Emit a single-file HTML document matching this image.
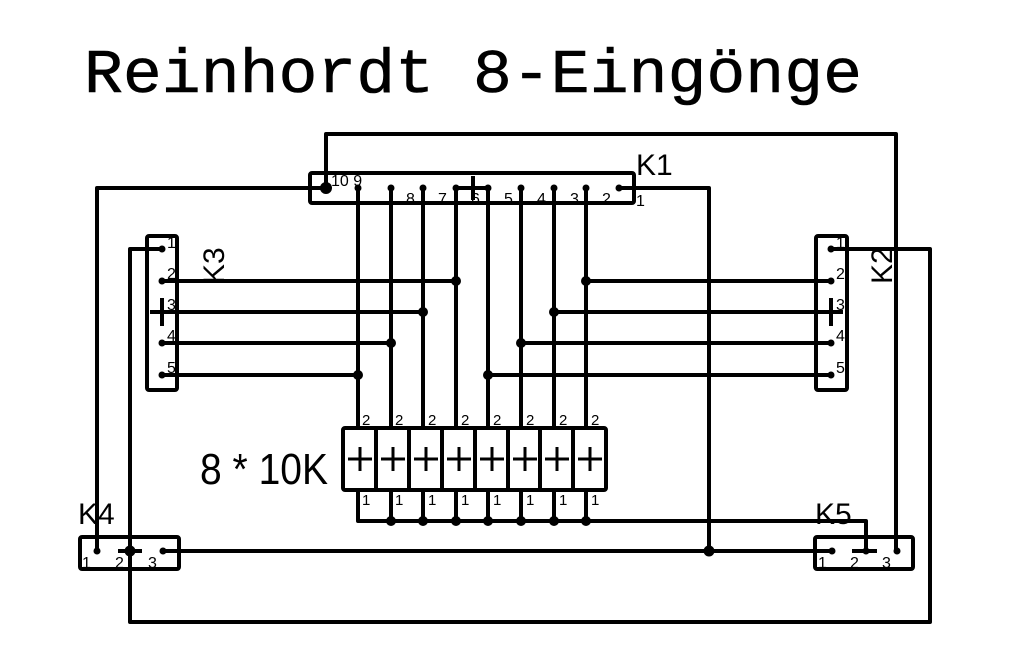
<!DOCTYPE html>
<html><head><meta charset="utf-8"><style>html,body{margin:0;padding:0;background:#fff}svg{display:block}</style></head>
<body>
<svg width="1014" height="668" viewBox="0 0 1014 668" xmlns="http://www.w3.org/2000/svg">
<rect width="1014" height="668" fill="#fff"/>
<text x="84" y="92" font-family="Liberation Mono, monospace" font-size="62" textLength="778" lengthAdjust="spacingAndGlyphs" stroke="#000" stroke-width="0.6">Reinhordt  8-Eingönge</text>
<g fill="none" stroke="#000" stroke-width="4" stroke-linejoin="round">
<rect x="310" y="173" width="324" height="30" rx="2"/>
<rect x="147" y="236" width="30" height="154" rx="2"/>
<rect x="816" y="236" width="31" height="154" rx="2"/>
<rect x="80" y="537" width="99" height="32" rx="2"/>
<rect x="815" y="537" width="98" height="32" rx="2"/>
<rect x="343" y="428" width="263" height="62" rx="2"/>
<path d="M376 428V490M409 428V490M442 428V490M475 428V490M508 428V490M540 428V490M573 428V490"/>
<path d="M326 188V134H896V551"/>
<path d="M97 551V188H326"/>
<path d="M619 188H709V551"/>
<path d="M456 188H488M473 176V200"/>
<path d="M358 188V428M391 188V428M423 188V428M456 188V428M488 188V428M521 188V428M554 188V428M586 188V428"/>
<path d="M358 490V521H866V551M391 490V521M423 490V521M456 490V521M488 490V521M521 490V521M554 490V521M586 490V521"/>
<path d="M162 249H130V622H930V249H831"/>
<path d="M162 281H456M150 312H423M162 343H391M162 375H358M162 298V326"/>
<path d="M831 281H586M843 312H554M831 343H521M831 375H488M831 298V326"/>
<path d="M163 551H832M118 551H142M852 551H877"/>
<g stroke-width="3"><path d="M348 459H372M360 447V471M381 459H405M393 447V471M414 459H438M426 447V471M447 459H471M459 447V471M480 459H504M492 447V471M513 459H537M525 447V471M545 459H569M557 447V471M578 459H602M590 447V471"/></g>
</g>
<g fill="#000">
<circle cx="326" cy="188" r="6"/>
<circle cx="358" cy="188" r="3.5"/><circle cx="391" cy="188" r="3.5"/><circle cx="423" cy="188" r="3.5"/><circle cx="456" cy="188" r="3.5"/><circle cx="488" cy="188" r="3.5"/><circle cx="521" cy="188" r="3.5"/><circle cx="554" cy="188" r="3.5"/><circle cx="586" cy="188" r="3.5"/><circle cx="619" cy="188" r="3.5"/>
<circle cx="162" cy="249" r="3.5"/><circle cx="162" cy="281" r="3.5"/><circle cx="162" cy="343" r="3.5"/><circle cx="162" cy="375" r="3.5"/>
<circle cx="831" cy="249" r="3.5"/><circle cx="831" cy="281" r="3.5"/><circle cx="831" cy="343" r="3.5"/><circle cx="831" cy="375" r="3.5"/>
<circle cx="456" cy="281" r="5"/><circle cx="423" cy="312" r="5"/><circle cx="391" cy="343" r="5"/><circle cx="358" cy="375" r="5"/>
<circle cx="586" cy="281" r="5"/><circle cx="554" cy="312" r="5"/><circle cx="521" cy="343" r="5"/><circle cx="488" cy="375" r="5"/>
<circle cx="391" cy="521" r="5"/><circle cx="423" cy="521" r="5"/><circle cx="456" cy="521" r="5"/><circle cx="488" cy="521" r="5"/><circle cx="521" cy="521" r="5"/><circle cx="554" cy="521" r="5"/><circle cx="586" cy="521" r="5"/>
<circle cx="97" cy="551" r="3.5"/><circle cx="130" cy="551" r="5.5"/><circle cx="163" cy="551" r="3.5"/>
<circle cx="832" cy="551" r="3.5"/><circle cx="866" cy="551" r="3.5"/><circle cx="897" cy="551" r="3.5"/>
<circle cx="709" cy="551" r="5.5"/>
</g>
<g font-family="Liberation Sans, sans-serif" fill="#000" font-size="16">
<text x="331" y="186">10 9</text>
<text x="406" y="204">8</text><text x="438" y="204">7</text><text x="471" y="204">6</text><text x="504" y="204">5</text><text x="537" y="204">4</text><text x="570" y="204">3</text><text x="602" y="204">2</text><text x="636" y="206">1</text>
<text x="167" y="248">1</text><text x="167" y="279">2</text><text x="167" y="310">3</text><text x="167" y="341">4</text><text x="167" y="373">5</text>
<text x="836" y="248">1</text><text x="836" y="279">2</text><text x="836" y="310">3</text><text x="836" y="341">4</text><text x="836" y="373">5</text>
<text x="82" y="568">1</text><text x="115" y="568">2</text><text x="148" y="568">3</text>
<text x="818" y="568">1</text><text x="850" y="568">2</text><text x="882" y="568">3</text>
<g font-size="15"><text x="362" y="425">2</text><text x="395" y="425">2</text><text x="428" y="425">2</text><text x="461" y="425">2</text><text x="493" y="425">2</text><text x="526" y="425">2</text><text x="559" y="425">2</text><text x="591" y="425">2</text>
<text x="362" y="505">1</text><text x="395" y="505">1</text><text x="428" y="505">1</text><text x="461" y="505">1</text><text x="493" y="505">1</text><text x="526" y="505">1</text><text x="559" y="505">1</text><text x="591" y="505">1</text></g>
<g font-size="30" font-weight="300">
<text x="636" y="175">K1</text>
<text x="78" y="524">K4</text>
<text x="815" y="524">K5</text>
<text transform="translate(224,284) rotate(-90)">K3</text>
<text transform="translate(892,284) rotate(-90)">K2</text>
</g>
<text x="200" y="484" font-size="44" textLength="128" lengthAdjust="spacingAndGlyphs">8 * 10K</text>
</g>
</svg>
</body></html>
